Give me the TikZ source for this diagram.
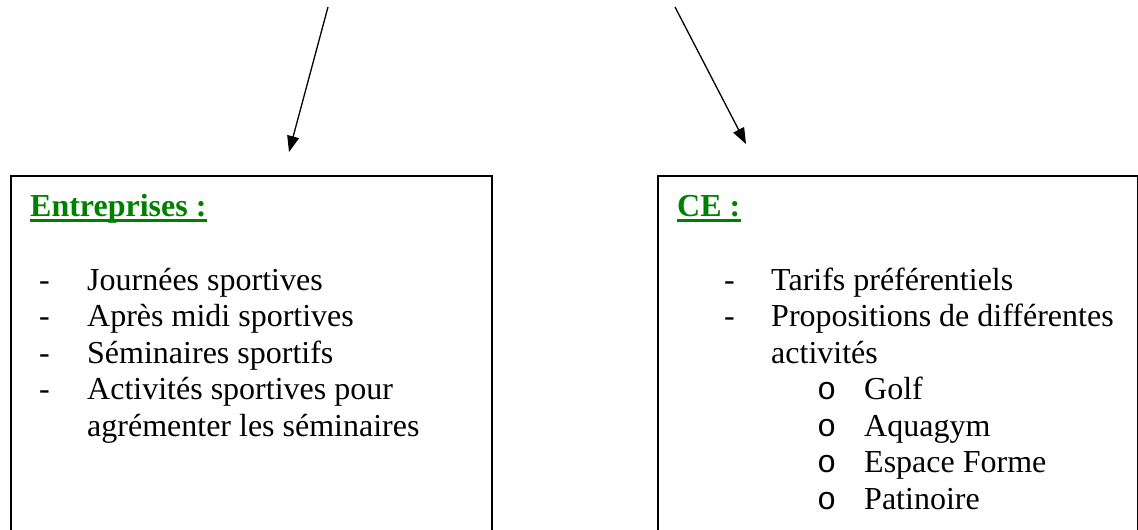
\documentclass[tikz,border=0pt]{standalone}
\usepackage{fontspec}
\setmainfont{Liberation Serif}
\newfontfamily\bulletfont{Liberation Mono}
\usetikzlibrary{arrows.meta}
\definecolor{titlegreen}{RGB}{0,128,0}
\begin{document}
\begin{tikzpicture}[x=1pt,y=-1pt,
  txt/.style={anchor=base west,inner sep=0pt,font=\fontsize{32}{36}\selectfont},
  ttl/.style={txt,text=titlegreen,font=\fontsize{32}{36}\selectfont\bfseries},
  bul/.style={txt,font=\fontsize{32}{36}\bulletfont},
  boxframe/.style={draw=black,line width=1.6pt,rectangle,inner sep=0pt,anchor=north west},
  arr/.style={draw=black,line width=1.3pt,-{Triangle[length=16pt,width=12pt]}}
]
\useasboundingbox (0,0) rectangle (1138,530);
\clip (0,0) rectangle (1138,530);
% boxes
\node[boxframe,minimum width=481pt,minimum height=400pt] (boxL) at (10,175) {};
\node[boxframe,minimum width=480pt,minimum height=400pt] (boxR) at (657,175) {};
% arrows
\coordinate (sL) at (328,7);
\coordinate (eL) at (289,152);
\coordinate (sR) at (675,7);
\coordinate (eR) at (746,144);
\draw[arr] (sL) -- (eL);
\draw[arr] (sR) -- (eR);
% left box text
\node[ttl] (tL) at (30,216) {Entreprises :};
\draw[titlegreen,line width=2.2pt] ([yshift=-4.5pt]tL.base west) -- ([yshift=-4.5pt]tL.base east);
\node[txt] (dL1) at (39,290) {-};
\node[txt] (l1) at (87,290) {Journées sportives};
\node[txt] (dL2) at (39,326.5) {-};
\node[txt] (l2) at (87,326.5) {Après midi sportives};
\node[txt] (dL3) at (39,363) {-};
\node[txt] (l3) at (87,363) {Séminaires sportifs};
\node[txt] (dL4) at (39,399.5) {-};
\node[txt] (l4) at (87,399.5) {Activités sportives pour};
\node[txt] (l5) at (87,436) {agrémenter les séminaires};
% right box text
\node[ttl] (tR) at (677,216) {CE :};
\draw[titlegreen,line width=2.2pt] ([yshift=-4.5pt]tR.base west) -- ([yshift=-4.5pt]tR.base east);
\node[txt] (dR1) at (724,290) {-};
\node[txt] (r1) at (771,290) {Tarifs préférentiels};
\node[txt] (dR2) at (724,326.5) {-};
\node[txt] (r2) at (771,326.5) {Propositions de différentes};
\node[txt] (r3) at (771,363) {activités};
\node[bul] (o1) at (817,399.5) {o};
\node[txt] (r4) at (864,399.5) {Golf};
\node[bul] (o2) at (817,436) {o};
\node[txt] (r5) at (864,436) {Aquagym};
\node[bul] (o3) at (817,472.5) {o};
\node[txt] (r6) at (864,472.5) {Espace Forme};
\node[bul] (o4) at (817,509) {o};
\node[txt] (r7) at (864,509) {Patinoire};
\end{tikzpicture}
\end{document}
